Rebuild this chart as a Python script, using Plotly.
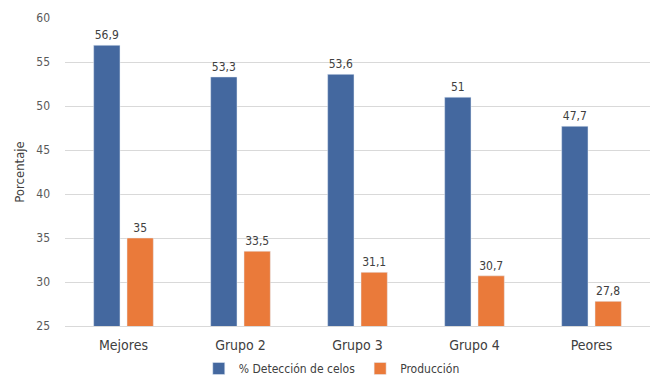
import plotly.graph_objects as go

categories = ["Mejores", "Grupo 2", "Grupo 3", "Grupo 4", "Peores"]
deteccion = [56.9, 53.3, 53.6, 51.0, 47.7]
produccion = [35.0, 33.5, 31.1, 30.7, 27.8]
y_ticks = [25, 30, 35, 40, 45, 50, 55, 60]

def fmt(v):
    s = ("%.1f" % v).replace(".", ",")
    if s.endswith(",0"):
        s = s[:-2]
    return s

FONT = "DejaVu Sans Condensed, Roboto, sans-serif"
fig = go.Figure()
fig.add_trace(go.Bar(
    x=categories, y=deteccion, name="% Detección de celos",
    marker_color="#44689F", text=[fmt(v) for v in deteccion],
    textposition="outside", textfont=dict(size=12, color="#404040"), cliponaxis=False))
fig.add_trace(go.Bar(
    x=categories, y=produccion, name="Producción",
    marker_color="#EA7A3A", text=[fmt(v) for v in produccion],
    textposition="outside", textfont=dict(size=12, color="#404040"), cliponaxis=False))

fig.update_layout(
    width=656, height=383,
    margin=dict(l=65, r=6, t=18, b=57, autoexpand=False),
    paper_bgcolor="white", plot_bgcolor="white",
    barmode="group", bargap=0.43, bargroupgap=0.21,
    font=dict(family=FONT, size=13, color="#404040"),
    showlegend=True,
    legend=dict(orientation="h", x=0.456, xanchor="center", yref="container", y=-0.025, yanchor="bottom",
                font=dict(size=12, color="#404040"), itemwidth=30, tracegroupgap=0),
    yaxis=dict(range=[25, 60], tickvals=y_ticks, showgrid=True, gridcolor="#D9D9D9",
               gridwidth=1, zeroline=False, showline=False, ticks="", ticklabelstandoff=14,
               tickfont=dict(size=12, color="#595959"),
               title=dict(text="Porcentaje", font=dict(size=13, color="#404040"), standoff=8)),
    xaxis=dict(showline=True, linecolor="#D9D9D9", ticks="", ticklabelstandoff=6,
               tickfont=dict(size=14, color="#404040")),
)
fig.write_html("out.html")
